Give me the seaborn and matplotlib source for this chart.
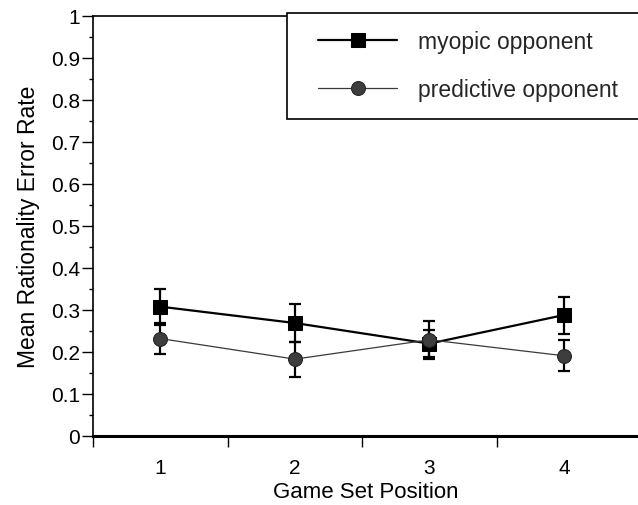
import matplotlib
matplotlib.use("Agg")
import matplotlib.pyplot as plt
from matplotlib.ticker import FixedLocator, MultipleLocator
from matplotlib.patches import Rectangle
import seaborn as sns
import pandas as pd

positions = [1, 2, 3, 4]
myopic_mean = [0.308, 0.269, 0.220, 0.288]
myopic_err = [0.043, 0.046, 0.033, 0.044]
predictive_mean = [0.232, 0.183, 0.229, 0.191]
predictive_err = [0.036, 0.042, 0.045, 0.037]
series_names = ["myopic opponent", "predictive opponent"]
y_ticks = [0, 0.1, 0.2, 0.3, 0.4, 0.5, 0.6, 0.7, 0.8, 0.9, 1.0]
y_tick_labels = ["0", "0.1", "0.2", "0.3", "0.4", "0.5", "0.6", "0.7", "0.8", "0.9", "1"]

sns.set_theme(style="white")
plt.rcParams["font.family"] = ["Liberation Sans", "DejaVu Sans"]

df = pd.DataFrame({
    "pos": positions * 2,
    "rate": myopic_mean + predictive_mean,
    "series": [series_names[0]] * 4 + [series_names[1]] * 4,
})

W, H = 638, 506
fig = plt.figure(figsize=(W / 100, H / 100), dpi=100)
ax = fig.add_axes([93 / W, 1 - 437 / H, 1 - 93 / W, (437 - 17) / H])

# error bars
ax.errorbar(positions, myopic_mean, yerr=myopic_err, fmt="none", ecolor="black",
            elinewidth=1.6, capsize=4, capthick=1.6, zorder=2)
ax.errorbar(positions, predictive_mean, yerr=predictive_err, fmt="none", ecolor="black",
            elinewidth=1.6, capsize=4, capthick=1.6, zorder=2)

sns.lineplot(data=df[df.series == series_names[0]], x="pos", y="rate", ax=ax,
             color="black", linewidth=1.6, marker="s", markersize=10.5,
             markeredgecolor="black", markerfacecolor="black",
             label=series_names[0], zorder=3)
sns.lineplot(data=df[df.series == series_names[1]], x="pos", y="rate", ax=ax,
             color="#3a3a3a", linewidth=0.9, marker="o", markersize=10,
             markeredgecolor="#222222", markerfacecolor="#3d3d3d",
             label=series_names[1], zorder=4)

ax.set_xlim(0.5, 4.55)
ax.set_ylim(0, 1)

# y ticks
ax.set_yticks(y_ticks)
ax.set_yticklabels(y_tick_labels)
ax.yaxis.set_minor_locator(MultipleLocator(0.05))
ax.tick_params(axis="y", which="major", direction="out", length=8, width=1,
               labelsize=15, pad=1.5, left=True, colors="black")
ax.tick_params(axis="y", which="minor", direction="out", length=3, width=1, left=True,
               colors="black")

# x ticks: labels at positions, tick marks at category boundaries
ax.set_xticks(positions)
ax.set_xticklabels([str(p) for p in positions])
ax.xaxis.set_minor_locator(FixedLocator([0.5, 1.5, 2.5, 3.5]))
ax.tick_params(axis="x", which="major", length=0, labelsize=15, pad=16, colors="black")
ax.tick_params(axis="x", which="minor", direction="out", length=8, width=1, bottom=True,
               colors="black")

ax.set_xlabel("Game Set Position", fontsize=16, labelpad=3, color="black")
ax.set_ylabel("Mean Rationality Error Rate", fontsize=16.5, labelpad=8, color="black")

for side in ["left", "top"]:
    ax.spines[side].set_visible(True)
    ax.spines[side].set_color("black")
    ax.spines[side].set_linewidth(1.2)
ax.spines["bottom"].set_color("black")
ax.spines["bottom"].set_linewidth(2.2)
ax.spines["right"].set_visible(False)
ax.grid(False)

# legend box frame, running past the right edge of the figure
box = Rectangle((287 / W, 1 - 120 / H), 360 / W, 106 / H, transform=fig.transFigure,
                facecolor="white", edgecolor="black", linewidth=1.2, zorder=9,
                clip_on=False)
ax.add_patch(box)

leg = ax.legend(loc="upper left", bbox_to_anchor=(318 / W, 1 - 31 / H),
                bbox_transform=fig.transFigure, borderaxespad=0, borderpad=0,
                fontsize=16.5, frameon=False, handlelength=3.45,
                handletextpad=0.9, labelspacing=1.08)
leg.set_zorder(10)

fig.savefig("out.png", dpi=100)
